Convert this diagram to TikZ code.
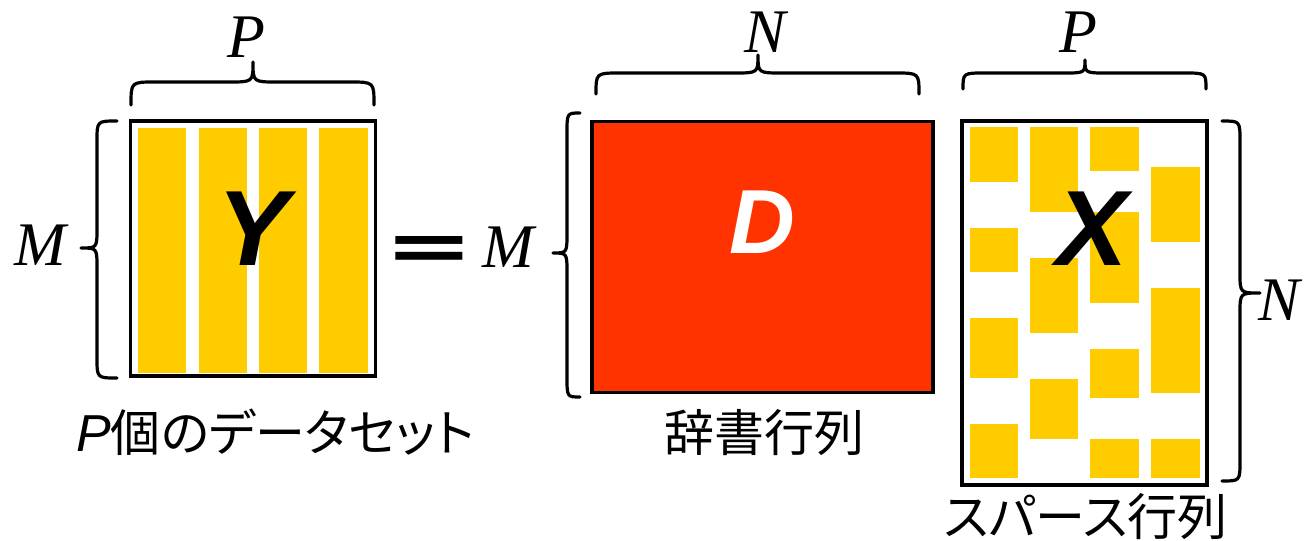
\documentclass[tikz,border=0pt]{standalone}
\usepackage{fontspec}
\setmainfont{Liberation Serif}
\newfontfamily\jpfont{Noto Sans CJK JP}
\newfontfamily\jpkana[RawFeature=+palt]{Noto Sans CJK JP}
\newfontfamily\arialf{Liberation Sans}
\definecolor{yel}{HTML}{FFCC00}
\definecolor{redm}{HTML}{FF3300}
\tikzset{
  mat/.style={draw=black, line width=3.2pt, inner sep=0pt, outer sep=0pt},
  brc/.style={draw=black, line width=3.2pt, line cap=round, line join=round},
  dimlab/.style={anchor=base, inner sep=0pt, font=\fontsize{62}{62}\selectfont\itshape},
  biglet/.style={anchor=base, inner sep=0pt, font=\arialf\fontsize{107}{107}\selectfont\bfseries\itshape},
  jplab/.style={anchor=base, inner sep=0pt, font=\jpkana\fontsize{50}{50}\selectfont},
  blk/.style={fill=yel},
}
\begin{document}
\begin{tikzpicture}[x=1pt,y=-1pt]
\useasboundingbox (0,0) rectangle (1307,541);
% ---------- Y ----------
\fill[blk] (138,128) rectangle (186,372.5);
\fill[blk] (199,128) rectangle (247,372.5);
\fill[blk] (259,128) rectangle (307,372.5);
\fill[blk] (319,128) rectangle (368,372.5);
\node[mat, minimum width=245pt, minimum height=255pt] (Y) at (253,248.5) {};
\node[biglet] (Ylet) at (253,265) {Y};
% ---------- D ----------
\node[mat, fill=redm, minimum width=341pt, minimum height=271pt] (D) at (762.5,257) {};
\node[biglet, text=white, font=\arialf\fontsize{91}{91}\selectfont\bfseries\itshape] (Dlet) at (762,253) {D};
% ---------- X ----------
\fill[blk] (969.7,127.3) rectangle (1018,181.7);
\fill[blk] (969.7,228) rectangle (1018,271.7);
\fill[blk] (969.7,318) rectangle (1018,377.7);
\fill[blk] (969.7,424) rectangle (1018,478.3);
\fill[blk] (1030,127.3) rectangle (1078.3,211.7);
\fill[blk] (1030,258) rectangle (1078.3,332.7);
\fill[blk] (1030,379) rectangle (1078.3,438.7);
\fill[blk] (1090.3,127.3) rectangle (1139,170.7);
\fill[blk] (1090.3,212) rectangle (1139,302.7);
\fill[blk] (1090.3,349) rectangle (1139,397.7);
\fill[blk] (1090.3,439) rectangle (1139,478.3);
\fill[blk] (1151,167) rectangle (1199.7,241.7);
\fill[blk] (1151,288) rectangle (1199.7,392.7);
\fill[blk] (1151,439) rectangle (1199.7,478.3);
\node[mat, minimum width=245pt, minimum height=364pt] (X) at (1084.5,303) {};
\node[biglet] (Xlet) at (1092,265) {X};
% ---------- equals ----------
\node[anchor=base, inner sep=0pt, font=\jpfont\fontsize{66}{66}\selectfont\bfseries] (eq) at (429,274) {\scalebox{1.45}[1]{＝}};
% ---------- braces ----------
% top of Y
\draw[brc] (131,105) .. controls (131,82) and (131,82) .. (155,82) -- (229,82)
  .. controls (253,82) and (253,82) .. (253,62) .. controls (253,82) and (253,82) .. (277,82)
  -- (350,82) .. controls (374,82) and (374,82) .. (374,105);
% left of Y
\draw[brc] (117,121) .. controls (97,121) and (97,121) .. (97,141) -- (97,228)
  .. controls (97,248) and (97,248) .. (81,248) .. controls (97,248) and (97,248) .. (97,268)
  -- (97,358) .. controls (97,378) and (97,378) .. (117,378);
% top of D
\draw[brc] (596,94) .. controls (596,73) and (596,73) .. (620,73) -- (734,73)
  .. controls (758,73) and (758,73) .. (758,55) .. controls (758,73) and (758,73) .. (782,73)
  -- (895,73) .. controls (919,73) and (919,73) .. (919,94);
% left of D
\draw[brc] (580,113) .. controls (567,113) and (567,113) .. (567,133) -- (567,233)
  .. controls (567,253) and (567,253) .. (553,253) .. controls (567,253) and (567,253) .. (567,273)
  -- (567,377) .. controls (567,397) and (567,397) .. (580,397);
% top of X
\draw[brc] (963,89) .. controls (963,73) and (963,73) .. (985,73) -- (1063,73)
  .. controls (1085,73) and (1085,73) .. (1085,60) .. controls (1085,73) and (1085,73) .. (1107,73)
  -- (1184,73) .. controls (1206,73) and (1206,73) .. (1206,89);
% right of X
\draw[brc] (1222,121) .. controls (1240,121) and (1240,121) .. (1240,141) -- (1240,273)
  .. controls (1240,293) and (1240,293) .. (1260,293) .. controls (1240,293) and (1240,293) .. (1240,313)
  -- (1240,461) .. controls (1240,481) and (1240,481) .. (1222,481);
% ---------- dimension labels ----------
\node[dimlab] (PY) at (246,57) {P};
\node[dimlab] (MY) at (40,265) {M};
\node[dimlab] (ND) at (765,52) {N};
\node[dimlab] (MD) at (508,267) {M};
\node[dimlab] (PX) at (1078,52) {P};
\node[dimlab, anchor=base west] (NX) at (1258,320) {N};
% ---------- captions ----------
\node[jplab, anchor=base west] (capY) at (76,451) {{\arialf\itshape\fontsize{52}{52}\selectfont P}個のデータセット};
\node[jplab] (capD) at (764,451) {辞書行列};
\node[jplab] (capX) at (1086,535) {スパース行列};
\end{tikzpicture}
\end{document}
